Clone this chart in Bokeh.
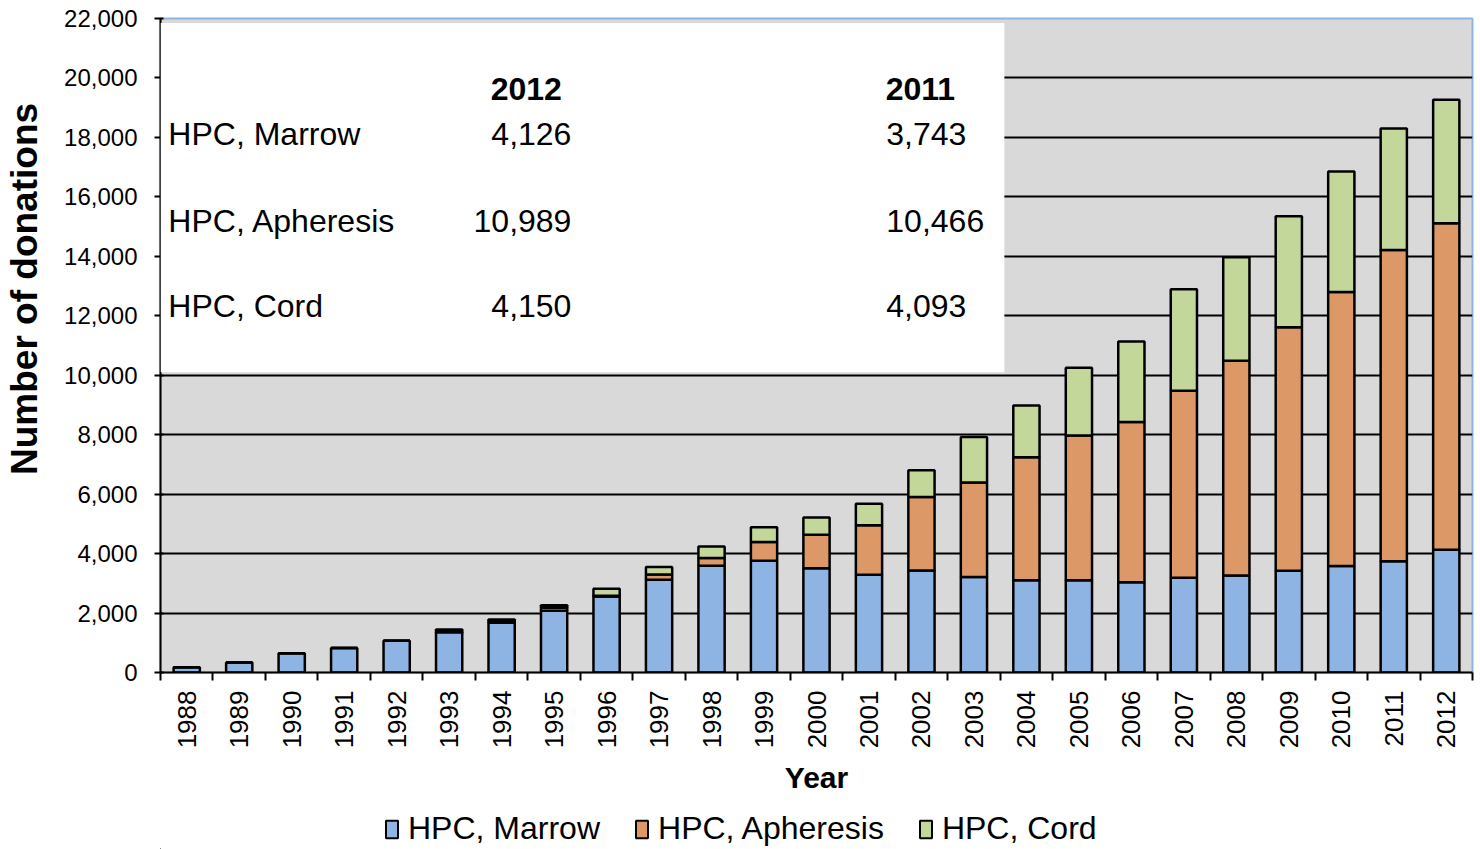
from bokeh.plotting import figure
from bokeh.models import (ColumnDataSource, Range1d, FixedTicker, NumeralTickFormatter,
                          BoxAnnotation, Label, Legend)
from bokeh.layouts import column
from bokeh.embed import file_html
from bokeh.resources import INLINE
import math

years = [str(y) for y in range(1988, 2013)]
marrow = [180, 340, 650, 820, 1070, 1350, 1670, 2080, 2560, 3120, 3590, 3760, 3510, 3290,
          3430, 3210, 3100, 3100, 3035, 3190, 3260, 3425, 3585, 3743, 4126]
apheresis = [0, 0, 0, 0, 0, 50, 60, 100, 20, 180, 260, 630, 1120, 1660,
             2470, 3180, 4140, 4870, 5390, 6290, 7225, 8190, 9215, 10466, 10989]
cord = [0, 0, 0, 0, 0, 50, 50, 80, 240, 250, 390, 500, 580, 730,
        900, 1530, 1745, 2280, 2710, 3410, 3480, 3735, 4050, 4093, 4150]
series = ["HPC, Marrow", "HPC, Apheresis", "HPC, Cord"]
colors = ["#8EB4E3", "#DC9866", "#C4D79B"]
y_ticks = list(range(0, 22001, 2000))

table_rows = ["HPC, Marrow", "HPC, Apheresis", "HPC, Cord"]
table_2012 = ["4,126", "10,989", "4,150"]
table_2011 = ["3,743", "10,466", "4,093"]

FONT = "Liberation Sans"
W = 1478

n = len(years)
centers = [i + 0.5 for i in range(n)]
bounds = [float(i) for i in range(n + 1)]

src = ColumnDataSource(dict(x=centers, m=marrow, a=apheresis, c=cord))

p = figure(width=W, height=808, output_backend="svg", toolbar_location=None,
           x_range=Range1d(0, n), y_range=Range1d(0, 22000),
           min_border_left=160, min_border_top=18, min_border_right=6,
           min_border_bottom=136,
           background_fill_color="#D9D9D9", border_fill_color="white",
           outline_line_color="#8EB4E3", outline_line_width=2)

rs = p.vbar_stack(["m", "a", "c"], x="x", width=0.5, source=src, color=colors,
                  line_color="black", line_width=2.5)

# grid
p.xgrid.grid_line_color = None
p.ygrid.grid_line_color = "black"
p.ygrid.grid_line_width = 2
p.ygrid.ticker = FixedTicker(ticks=y_ticks)

# y axis
p.yaxis.ticker = FixedTicker(ticks=y_ticks)
p.yaxis.formatter = NumeralTickFormatter(format="0,0")
p.yaxis.axis_label = "\u00a0" * 11 + "Number of donations"
p.yaxis.axis_label_text_font = FONT
p.yaxis.axis_label_text_font_style = "bold"
p.yaxis.axis_label_text_font_size = "37px"
p.yaxis.axis_label_text_color = "black"
p.yaxis.axis_label_standoff = 16
p.yaxis.major_label_text_font = FONT
p.yaxis.major_label_text_font_size = "24px"
p.yaxis.major_label_text_color = "black"
p.yaxis.major_label_standoff = 17
p.yaxis.axis_line_color = "black"
p.yaxis.axis_line_width = 2
p.yaxis.major_tick_line_color = "black"
p.yaxis.major_tick_line_width = 2
p.yaxis.major_tick_out = 6
p.yaxis.major_tick_in = 3
p.yaxis.minor_tick_line_color = None

# x axis
p.xaxis.ticker = FixedTicker(ticks=centers, minor_ticks=bounds)
p.xaxis.major_label_overrides = {c: y for c, y in zip(centers, years)}
p.xaxis.major_label_orientation = math.pi / 2
p.xaxis.major_label_text_font = FONT
p.xaxis.major_label_text_font_size = "26px"
p.xaxis.major_label_text_color = "black"
p.xaxis.major_label_standoff = 10
p.xaxis.major_tick_line_color = None
p.xaxis.minor_tick_line_color = "black"
p.xaxis.minor_tick_line_width = 2
p.xaxis.minor_tick_out = 8
p.xaxis.minor_tick_in = 0
p.xaxis.axis_line_color = "black"
p.xaxis.axis_line_width = 2
p.xaxis.axis_label = "Year"
p.xaxis.axis_label_text_font = FONT
p.xaxis.axis_label_text_font_style = "bold"
p.xaxis.axis_label_text_font_size = "30px"
p.xaxis.axis_label_text_color = "black"
p.xaxis.axis_label_standoff = 10

# inset table
p.add_layout(BoxAnnotation(left=0, right=16.08, bottom=10100, top=21850,
                           fill_color="white", fill_alpha=1, line_color=None))
row_y = [18130, 15200, 12345]
for hx, ht in [(6.97, "2012"), (14.48, "2011")]:
    p.add_layout(Label(x=hx, y=19640, text=ht, text_font=FONT, text_font_style="bold",
                       text_font_size="32px", text_align="center", text_baseline="middle",
                       text_color="black"))
for ry, name, v12, v11 in zip(row_y, table_rows, table_2012, table_2011):
    p.add_layout(Label(x=0.15, y=ry, text=name, text_font=FONT, text_font_size="32px",
                       text_align="left", text_baseline="middle", text_color="black"))
    p.add_layout(Label(x=7.83, y=ry, text=v12, text_font=FONT, text_font_size="32px",
                       text_align="right", text_baseline="middle", text_color="black"))
    p.add_layout(Label(x=13.83, y=ry, text=v11, text_font=FONT, text_font_size="32px",
                       text_align="left", text_baseline="middle", text_color="black"))

# legend strip (legend swatches only; the single datum of each sits outside the view)
q = figure(width=W, height=41, output_backend="svg", toolbar_location=None,
           x_range=Range1d(0, 1), y_range=Range1d(0, 1),
           min_border=0, outline_line_color=None, background_fill_color="white",
           border_fill_color="white")
q.axis.visible = False
q.grid.visible = False
items = []
for s, c in zip(series, colors):
    r = q.vbar(x=[-5], top=[-5], bottom=[-6], width=0.1, fill_color=c,
               line_color="black", line_width=2)
    items.append((s, [r]))
legend = Legend(items=items, orientation="horizontal", location=(224, 2),
                label_text_font=FONT, label_text_font_size="32px", label_text_color="black",
                glyph_width=15, glyph_height=22, label_standoff=9, spacing=34,
                padding=0, margin=0, border_line_color=None, background_fill_alpha=0)
q.add_layout(legend, "center")

layout = column(p, q, spacing=0)
open("out.html", "w").write(file_html(layout, INLINE))
